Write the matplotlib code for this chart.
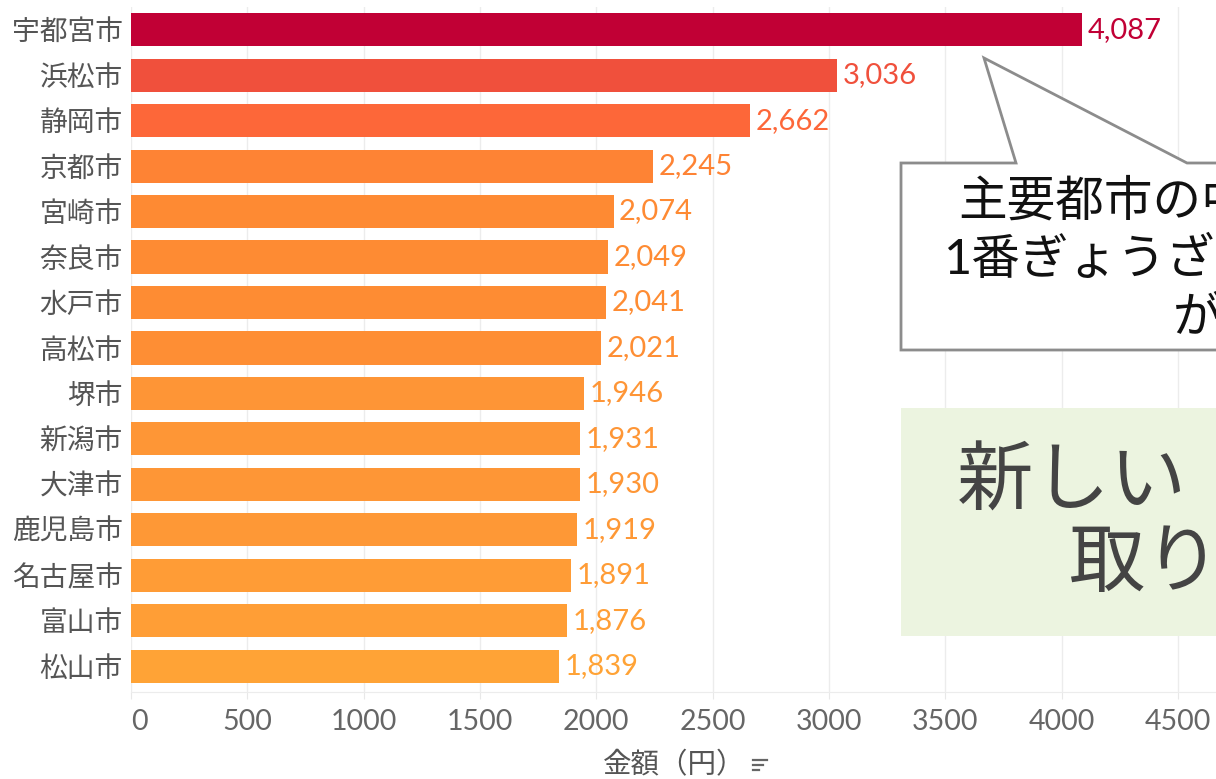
import matplotlib
matplotlib.use("Agg")
import matplotlib.pyplot as plt
from matplotlib.patches import Polygon, Rectangle
from matplotlib.lines import Line2D

plt.rcParams['font.family'] = ['Lato', 'Noto Sans CJK JP', 'DejaVu Sans']

# data
cities = ["宇都宮市", "浜松市", "静岡市", "京都市", "宮崎市", "奈良市", "水戸市", "高松市",
          "堺市", "新潟市", "大津市", "鹿児島市", "名古屋市", "富山市", "松山市"]
amounts = [4087, 3036, 2662, 2245, 2074, 2049, 2041, 2021,
           1946, 1931, 1930, 1919, 1891, 1876, 1839]
ticks = [0, 500, 1000, 1500, 2000, 2500, 3000, 3500, 4000, 4500]

bar_colors = ["#c10035", "#f0503c", "#fd6739", "#fe8334", "#fe8a33", "#fe8b33", "#fe8c33",
              "#fe8e34", "#fe9536", "#fe9636", "#fe9636", "#fe9836", "#ff9c36", "#ff9e36", "#ffa336"]

W, H = 1216, 779


def fx(px):
    return px / W


def fy(py):
    return 1 - py / H


fig = plt.figure(figsize=(12.16, 7.79), dpi=100)
scale = (1178 - 131) / 4500.0
ax = fig.add_axes([fx(131), fy(692), 4700 * scale / W, 685 / H])

ypos = list(range(len(cities)))
ax.barh(ypos, amounts, height=0.73, color=bar_colors, zorder=2)
for y, v, c in zip(ypos, amounts, bar_colors):
    ax.annotate("{:,}".format(v), (v, y), xytext=(4, 0), textcoords="offset points",
                va="center", ha="left", fontsize=21, color=c)

ax.set_xlim(0, 4700)
ax.set_ylim(14.57, -0.5)
ax.set_yticks(ypos)
ax.set_yticklabels(cities, fontsize=20, color="#555555")
ax.set_xticks(ticks)
ax.set_xticklabels([str(t) for t in ticks], fontsize=20.5, color="#666666")
ax.get_xticklabels()[0].set_horizontalalignment("left")
ax.tick_params(axis="y", length=0, pad=6)
ax.tick_params(axis="x", length=5, color="#e8e8e8", pad=7)
ax.grid(axis="x", color="#ececec", linewidth=1, zorder=0)
ax.set_axisbelow(True)
for s in ["top", "right", "left"]:
    ax.spines[s].set_visible(False)
ax.spines["bottom"].set_color("#ececec")

# axis title and sort icon
fig.text(fx(674), fy(765), "金額（円）", fontsize=20.5, color="#555555", ha="center", va="center")
for yy, x2 in [(760, 767), (765, 763), (770, 759)]:
    fig.add_artist(Line2D([fx(753), fx(x2)], [fy(yy), fy(yy)], color="#666666", lw=1.6))

# callout
pts = [(901, 163), (1016, 163), (984, 58), (1187, 163), (1240, 163), (1240, 350), (901, 350)]
fig.add_artist(Polygon([(fx(a), fy(b)) for a, b in pts], closed=True, facecolor="white",
                       edgecolor="#8c8c8c", lw=2, zorder=5))
fig.text(fx(958), fy(201), "主要都市の中で", fontsize=35, color="#111111", ha="left", va="center", zorder=6)
fig.text(fx(944), fy(259), "1番ぎょうざを買っているの", fontsize=35, color="#111111", ha="left", va="center", zorder=6)
fig.text(fx(1173), fy(317), "が宇都宮市", fontsize=35, color="#111111", ha="left", va="center", zorder=6)

# green box
fig.add_artist(Rectangle((fx(901), fy(636)), fx(340), 228 / H, facecolor="#ecf4e0",
                         edgecolor="none", zorder=5))
fig.text(fx(957), fy(481), "新しい\u3000名物を", fontsize=55, color="#444444", ha="left", va="center", zorder=6)
fig.text(fx(1069), fy(564), "取り入れる", fontsize=55, color="#444444", ha="left", va="center", zorder=6)

fig.savefig("out.png", dpi=100)
